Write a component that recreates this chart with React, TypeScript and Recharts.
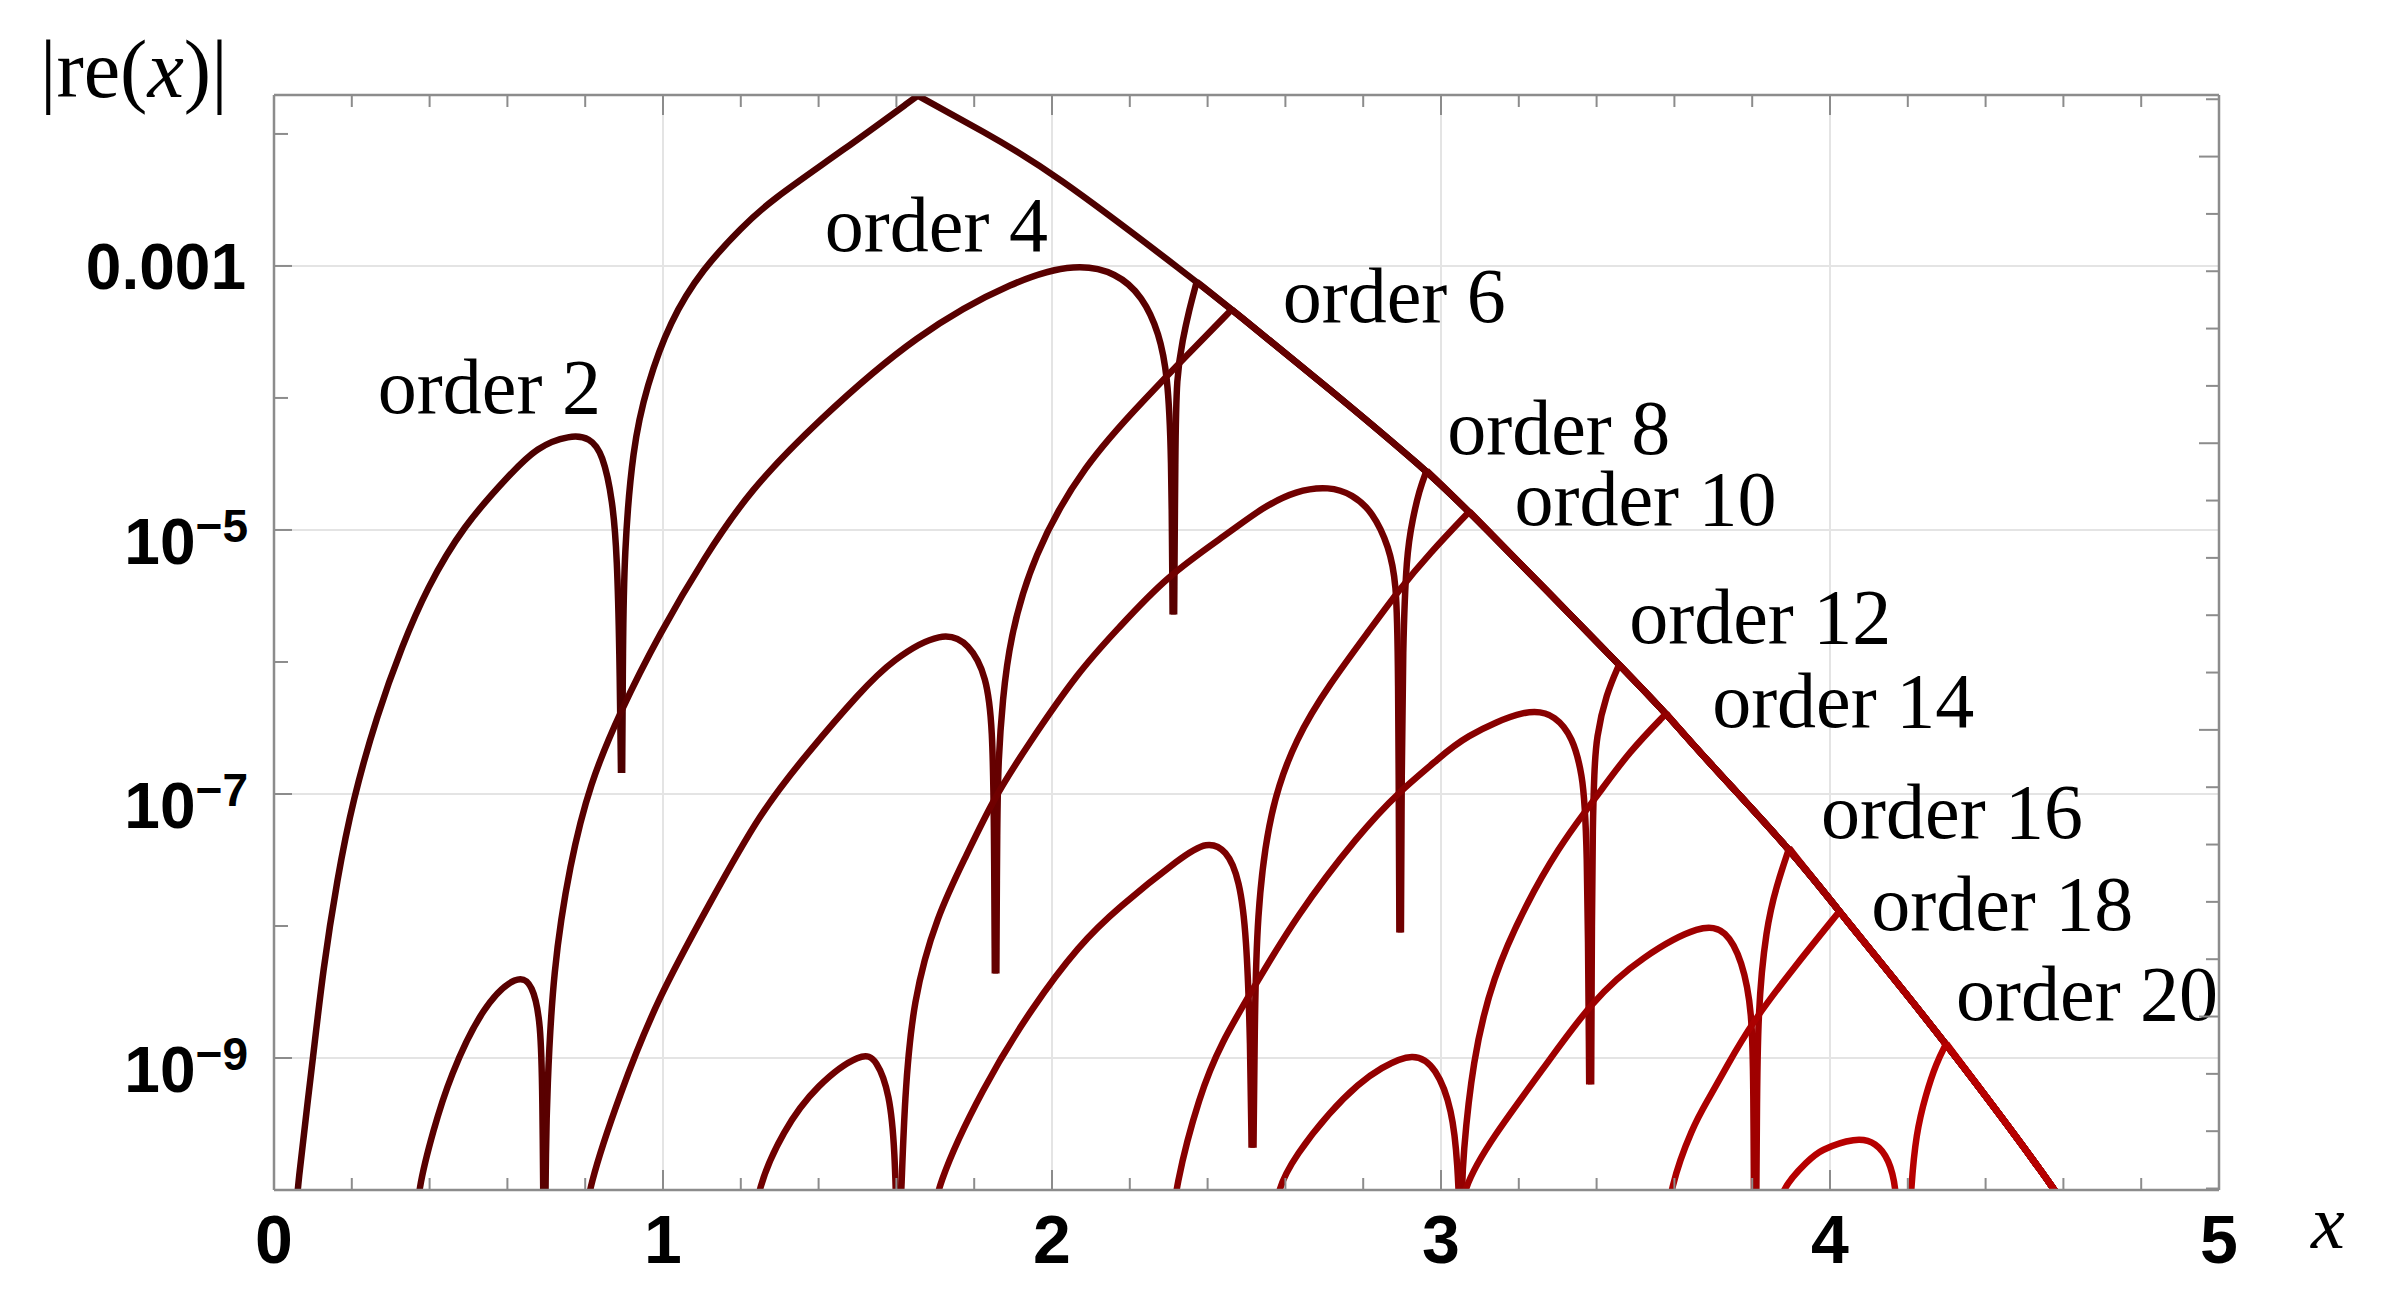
import React from 'react';
import { LineChart, Line, XAxis, YAxis, CartesianGrid, ReferenceDot } from 'recharts';

type P = [number, number]; // [x, log10 |re(x)|]

const ORDERS = [2, 4, 6, 8, 10, 12, 14, 16, 18, 20];
const ORDER_COLORS = ['#4d0000', '#590000', '#650000', '#700000', '#7c0000', '#880000', '#940000', '#9f0000', '#ab0000', '#b70000'];

// common descending envelope (all orders merge into it)
const ENVELOPE: P[] = [
  [1.655, -1.71], [1.822, -1.98], [1.994, -2.27], [2.372, -3.12], [2.462, -3.33], [2.713, -3.93],
  [2.963, -4.55], [3.073, -4.86], [3.458, -6.02], [3.579, -6.39], [3.672, -6.71], [3.895, -7.41],
  [4.024, -7.89], [4.126, -8.26], [4.299, -8.89], [4.576, -9.98], [4.62, -10.2],
];

const ORDER2_ARCS: P[][] = [
  [[0.054, -10.3], [0.059, -10.0], [0.100, -9.01], [0.126, -8.33], [0.162, -7.65], [0.203, -7.04], [0.265, -6.40],
   [0.329, -5.88], [0.393, -5.44], [0.486, -4.97], [0.606, -4.58], [0.676, -4.37], [0.761, -4.28], [0.812, -4.30],
   [0.845, -4.42], [0.871, -4.78], [0.882, -5.20], [0.888, -5.90], [0.892, -6.84]],
  [[0.895, -6.84], [0.897, -5.90], [0.900, -5.18], [0.922, -4.37], [0.958, -3.91], [1.017, -3.42], [1.102, -3.02],
   [1.205, -2.70], [1.274, -2.51], [1.460, -2.13], [1.655, -1.71]],
];
const ORDER4_ARCS: P[][] = [
  [[0.365, -10.3], [0.370, -10.0], [0.409, -9.55], [0.452, -9.14], [0.537, -8.60], [0.627, -8.36], [0.665, -8.44],
   [0.686, -8.73], [0.690, -9.27], [0.693, -10.3]],
  [[0.697, -10.3], [0.699, -9.70], [0.702, -9.27], [0.717, -8.33], [0.761, -7.52], [0.812, -6.92], [0.889, -6.38],
   [0.992, -5.78], [1.108, -5.20], [1.223, -4.70], [1.395, -4.18], [1.652, -3.51], [1.909, -3.10], [2.063, -2.98],
   [2.166, -3.05], [2.233, -3.23], [2.276, -3.51], [2.297, -3.83], [2.307, -4.37], [2.310, -5.64]],
  [[2.314, -5.64], [2.317, -4.39], [2.320, -3.83], [2.336, -3.56], [2.352, -3.34], [2.372, -3.12]],
];
const ORDER6_ARCS: P[][] = [
  [[0.799, -10.3], [0.806, -10.0], [0.889, -9.27], [0.984, -8.56], [1.120, -7.83], [1.249, -7.14], [1.377, -6.67],
   [1.506, -6.23], [1.590, -5.98], [1.719, -5.76], [1.788, -5.86], [1.832, -6.11], [1.847, -6.49], [1.851, -7.20],
   [1.853, -8.36]],
  [[1.857, -8.36], [1.859, -7.20], [1.862, -6.74], [1.873, -6.29], [1.891, -5.83], [1.950, -5.20], [2.079, -4.51],
   [2.251, -3.97], [2.336, -3.71], [2.462, -3.33]],
];
const ORDER8_ARCS: P[][] = [
  [[1.236, -10.3], [1.241, -10.0], [1.308, -9.55], [1.395, -9.20], [1.513, -8.95], [1.549, -9.01], [1.583, -9.27],
   [1.596, -9.70], [1.601, -10.3]],
  [[1.608, -10.3], [1.613, -10.0], [1.621, -9.32], [1.642, -8.56], [1.704, -7.92], [1.781, -7.46], [1.847, -7.05],
   [1.935, -6.64], [2.071, -6.06], [2.166, -5.76], [2.294, -5.35], [2.456, -5.02], [2.541, -4.83], [2.628, -4.70],
   [2.713, -4.67], [2.772, -4.73], [2.824, -4.86], [2.867, -5.13], [2.885, -5.40], [2.890, -5.91], [2.893, -8.05]],
  [[2.897, -8.05], [2.899, -6.80], [2.902, -5.90], [2.911, -5.18], [2.927, -4.92], [2.944, -4.70], [2.963, -4.55]],
];
const ORDER10_ARCS: P[][] = [
  [[1.693, -10.3], [1.698, -10.0], [1.822, -9.22], [1.950, -8.61], [2.071, -8.14], [2.166, -7.87], [2.336, -7.47],
   [2.397, -7.36], [2.449, -7.42], [2.482, -7.65], [2.500, -8.06], [2.510, -8.90], [2.513, -9.68]],
  [[2.518, -9.68], [2.521, -8.80], [2.526, -7.92], [2.559, -7.11], [2.628, -6.57], [2.713, -6.17], [2.816, -5.76],
   [2.893, -5.45], [2.970, -5.18], [3.073, -4.86]],
];
const ORDER12_ARCS: P[][] = [
  [[2.310, -10.3], [2.315, -10.0], [2.379, -9.27], [2.438, -8.87], [2.508, -8.52], [2.628, -7.92], [2.790, -7.30],
   [2.893, -6.98], [2.988, -6.75], [3.055, -6.57], [3.227, -6.34], [3.296, -6.41], [3.338, -6.57], [3.363, -6.84],
   [3.376, -7.24], [3.381, -9.20]],
  [[3.386, -9.20], [3.388, -7.90], [3.390, -7.24], [3.394, -6.84], [3.399, -6.57], [3.425, -6.24], [3.458, -6.02]],
];
const ORDER14_ARCS: P[][] = [
  [[2.572, -10.3], [2.577, -10.0], [2.628, -9.73], [2.713, -9.41], [2.790, -9.19], [2.842, -9.08], [2.930, -8.95],
   [2.988, -9.07], [3.029, -9.39], [3.043, -9.80], [3.049, -10.3]],
  [[3.052, -10.3], [3.054, -10.0], [3.056, -9.77], [3.081, -9.02], [3.132, -8.39], [3.219, -7.83], [3.304, -7.40],
   [3.374, -7.12], [3.407, -6.99], [3.484, -6.68], [3.579, -6.39]],
];
const ORDER16_ARCS: P[][] = [
  [[3.048, -10.3], [3.053, -10.0], [3.132, -9.60], [3.261, -9.09], [3.389, -8.56], [3.517, -8.23], [3.672, -7.98],
   [3.733, -8.03], [3.774, -8.26], [3.800, -8.64], [3.803, -9.20], [3.805, -10.3]],
  [[3.810, -10.3], [3.812, -9.50], [3.814, -8.64], [3.836, -8.01], [3.862, -7.70], [3.895, -7.41]],
];
const ORDER18_ARCS: P[][] = [
  [[3.582, -10.3], [3.587, -10.0], [3.646, -9.52], [3.690, -9.30], [3.733, -9.07], [3.800, -8.73], [3.903, -8.33],
   [4.024, -7.89]],
];
const ORDER20_ARCS: P[][] = [
  [[3.863, -10.3], [3.868, -10.0], [3.947, -9.77], [3.972, -9.70], [4.067, -9.60], [4.119, -9.64], [4.152, -9.77],
   [4.170, -9.98], [4.174, -10.3]],
  [[4.204, -10.3], [4.208, -10.0], [4.221, -9.57], [4.247, -9.27], [4.273, -9.04], [4.299, -8.89]],
];

const ARCS_BY_ORDER = [ORDER2_ARCS, ORDER4_ARCS, ORDER6_ARCS, ORDER8_ARCS, ORDER10_ARCS,
  ORDER12_ARCS, ORDER14_ARCS, ORDER16_ARCS, ORDER18_ARCS, ORDER20_ARCS];

// label anchors (start of baseline) in data units
const LABEL_X = [0.267, 1.416, 2.593, 3.016, 3.189, 3.484, 3.697, 3.977, 4.106, 4.324];
const LABEL_EXP = [-4.114, -2.890, -3.424, -4.424, -4.965, -5.856, -6.492, -7.333, -8.030, -8.712];

// axes
const X_MAJOR = [0, 1, 2, 3, 4, 5];
const X_MINOR = [0.2, 0.4, 0.6, 0.8, 1.2, 1.4, 1.6, 1.8, 2.2, 2.4, 2.6, 2.8, 3.2, 3.4, 3.6, 3.8, 4.2, 4.4, 4.6, 4.8];
const Y_LABELED_EXP = [-3, -5, -7, -9];
const Y_MINOR_EXP = [-2, -4, -6, -8];
const RIGHT_TICK_K = [4, 5, 6, 7, 8, 9, 10, 11, 12, 13, 14, 15, 16, 17, 18, 19, 20, 21, 22, 23];
const GRID_X = [1, 2, 3, 4];
const GRID_EXP = [-3, -5, -7, -9];

const Y_DOMAIN: [number, number] = [1e-10, Math.pow(10, -1.705)];
const W = 2384;
const H = 1297;
const FRAME = '#8c8c8c';
const SANS = '"Liberation Sans", Arial, Helvetica, sans-serif';
const SERIF = '"Liberation Serif", "Times New Roman", Times, serif';

const toPts = (arc: P[]) => arc.map(([x, e]) => ({ x, y: Math.pow(10, e) }));

type Series = { key: string; color: string; data: { x: number; y: number }[] };
const SERIES: Series[] = [];
ARCS_BY_ORDER.forEach((arcs, i) => {
  const color = ORDER_COLORS[i];
  arcs.forEach((arc, j) => SERIES.push({ key: `o${ORDERS[i]}-${j}`, color, data: toPts(arc) }));
  const last = arcs[arcs.length - 1];
  const meet = last[last.length - 1];
  const tail: P[] = [meet, ...ENVELOPE.filter((p) => p[0] > meet[0] + 1e-9)];
  SERIES.push({ key: `o${ORDERS[i]}-env`, color, data: toPts(tail) });
});

const X_TICKS = [...X_MAJOR, ...X_MINOR].sort((a, b) => a - b);
const Y_TICKS = [...Y_MINOR_EXP, ...Y_LABELED_EXP].sort((a, b) => b - a).map((e) => Math.pow(10, e));
const RIGHT_TICKS = RIGHT_TICK_K.map((k) => Math.exp(-k));

function BottomTick(props: any) {
  const { x, y, payload } = props;
  const v = payload.value;
  const major = X_MAJOR.includes(v);
  return (
    <g>
      <line x1={x} y1={y} x2={x} y2={y - (major ? 20 : 12)} stroke={FRAME} strokeWidth={2} />
      {major ? (
        <text x={x} y={y + 73} textAnchor="middle" fontFamily={SANS} fontWeight={700} fontSize={68} fill="#000">
          {v}
        </text>
      ) : null}
    </g>
  );
}

function TopTick(props: any) {
  const { x, y, payload } = props;
  const major = X_MAJOR.includes(payload.value);
  return <line x1={x} y1={y} x2={x} y2={y + (major ? 20 : 12)} stroke={FRAME} strokeWidth={2} />;
}

function LeftTick(props: any) {
  const { x, y, payload } = props;
  const e = Math.round(Math.log10(payload.value));
  const labeled = Y_LABELED_EXP.includes(e);
  let label: React.ReactNode = null;
  if (labeled) {
    label = e === -3 ? (
      <text x={x - 28} y={y + 23} textAnchor="end" fontFamily={SANS} fontWeight={700} fontSize={64} fill="#000">0.001</text>
    ) : (
      <text x={x - 26} y={y + 34} textAnchor="end" fontFamily={SANS} fontWeight={700} fontSize={64} fill="#000">
        10<tspan dy={-22} fontSize={46}>{`\u2212${-e}`}</tspan>
      </text>
    );
  }
  return (
    <g>
      <line x1={x} y1={y} x2={x + (labeled ? 18 : 14)} y2={y} stroke={FRAME} strokeWidth={2} />
      {label}
    </g>
  );
}

function RightTick(props: any) {
  const { x, y, payload } = props;
  const k = Math.round(-Math.log(payload.value));
  const major = k % 5 === 0;
  return <line x1={x} y1={y} x2={x - (major ? 20 : 13)} y2={y} stroke={FRAME} strokeWidth={2} />;
}

export default function App() {
  return (
    <div style={{ position: 'absolute', left: 0, top: 0, width: W, height: H, background: '#fff' }}>
      <LineChart width={W} height={H} margin={{ top: 85, right: 155, bottom: 47, left: 174 }}>
        <CartesianGrid
          horizontalValues={GRID_EXP.map((e) => Math.pow(10, e))}
          verticalValues={GRID_X}
          stroke="#e4e4e4"
          strokeWidth={2}
        />
        <XAxis
          dataKey="x"
          type="number"
          domain={[0, 5]}
          ticks={X_TICKS}
          interval={0}
          allowDataOverflow
          height={60}
          tickSize={0}
          tickMargin={0}
          tickLine={false}
          axisLine={{ stroke: FRAME, strokeWidth: 2.5 }}
          tick={<BottomTick />}
          label={{
            content: (p: any) => (
              <text x={p.viewBox.x + p.viewBox.width + 92} y={p.viewBox.y + 58} fontFamily={SERIF} fontStyle="italic" fontSize={76} fill="#000">x</text>
            ),
          }}
        />
        <XAxis
          xAxisId="top"
          orientation="top"
          dataKey="x"
          type="number"
          domain={[0, 5]}
          ticks={X_TICKS}
          interval={0}
          allowDataOverflow
          height={10}
          tickSize={0}
          tickMargin={0}
          tickLine={false}
          axisLine={{ stroke: FRAME, strokeWidth: 2.5 }}
          tick={<TopTick />}
        />
        <YAxis
          type="number"
          scale="log"
          domain={Y_DOMAIN}
          ticks={Y_TICKS}
          interval={0}
          allowDataOverflow
          width={100}
          tickSize={0}
          tickMargin={0}
          tickLine={false}
          axisLine={{ stroke: FRAME, strokeWidth: 2.5 }}
          tick={<LeftTick />}
          label={{
            content: (p: any) => (
              <text x={p.viewBox.x + p.viewBox.width - 234} y={p.viewBox.y + 2} fontFamily={SERIF} fontSize={82} fill="#000">
                |re(<tspan fontStyle="italic">x</tspan>)|
              </text>
            ),
          }}
        />
        <YAxis
          yAxisId="right"
          orientation="right"
          type="number"
          scale="log"
          domain={Y_DOMAIN}
          ticks={RIGHT_TICKS}
          interval={0}
          allowDataOverflow
          width={10}
          tickSize={0}
          tickMargin={0}
          tickLine={false}
          axisLine={{ stroke: FRAME, strokeWidth: 2.5 }}
          tick={<RightTick />}
        />
        {SERIES.map((s) => (
          <Line
            key={s.key}
            data={s.data}
            dataKey="y"
            type="basis"
            stroke={s.color}
            strokeWidth={6.5}
            dot={false}
            activeDot={false}
            isAnimationActive={false}
            legendType="none"
          />
        ))}
        {LABEL_X.map((lx, i) => (
          <ReferenceDot
            key={`lbl-${i}`}
            x={lx}
            y={Math.pow(10, LABEL_EXP[i])}
            r={1}
            fill="none"
            stroke="none"
            label={{
              content: (p: any) => (
                <text x={p.viewBox.x + 1} y={p.viewBox.y + 1} fontFamily={SERIF} fontSize={78} fill="#000">
                  {`order ${ORDERS[i]}`}
                </text>
              ),
            }}
          />
        ))}
      </LineChart>
    </div>
  );
}
